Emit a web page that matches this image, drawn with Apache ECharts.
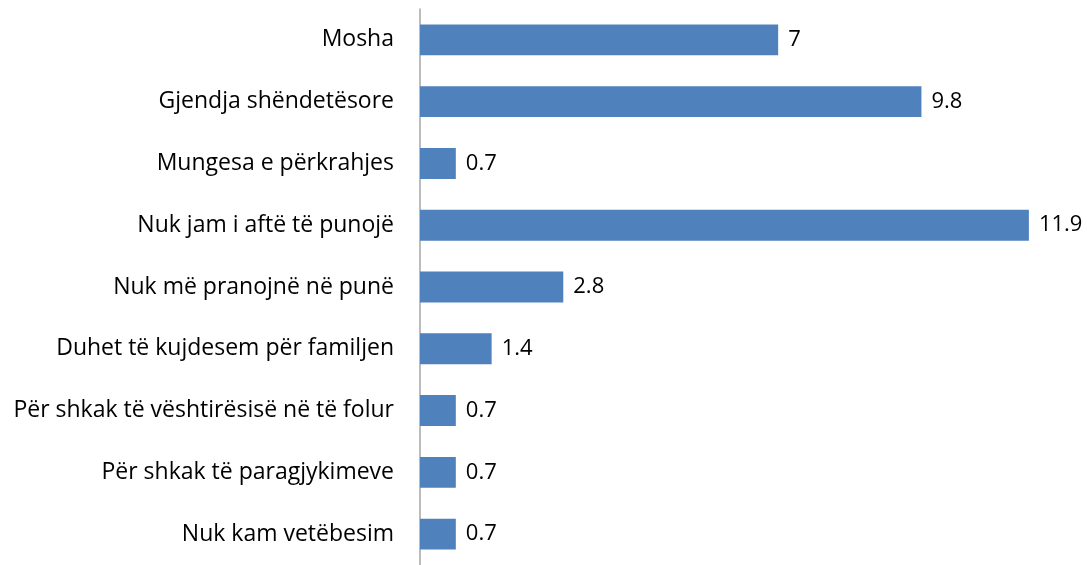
<!DOCTYPE html>
<html>
<head>
<meta charset="utf-8">
<script src="https://cdn.jsdelivr.net/npm/echarts@6/dist/echarts.min.js"></script>
<style>
    html, body { margin: 0; padding: 0; background: #fff; }
    #chart { width: 1087px; height: 565px; }
</style>
</head>
<body>
<div id="chart"></div>
<script>
    const categories = [
        'Mosha',
        'Gjendja shëndetësore',
        'Mungesa e përkrahjes',
        'Nuk jam i aftë të punojë',
        'Nuk më pranojnë në punë',
        'Duhet të kujdesem për familjen',
        'Për shkak të vështirësisë në të folur',
        'Për shkak të paragjykimeve',
        'Nuk kam vetëbesim'
    ]
    const values = [7, 9.8, 0.7, 11.9, 2.8, 1.4, 0.7, 0.7, 0.7]

    const chart = echarts.init(document.getElementById('chart'))
    chart.setOption({
        animation: false,
        textStyle: { fontFamily: 'Open Sans' },
        grid: {
            left: 420,
            right: 53,
            top: 9,
            bottom: 0
        },
        xAxis: {
            type: 'value',
            min: 0,
            max: 12,
            show: false
        },
        yAxis: {
            type: 'category',
            inverse: true,
            data: categories,
            axisLine: { show: true, lineStyle: { color: '#a6a6a6', width: 1.5 } },
            axisTick: { show: false },
            axisLabel: { color: '#000', fontSize: 23, margin: 26, fontFamily: 'Open Sans' }
        },
        series: [{
            type: 'bar',
            data: values,
            barWidth: '50%',
            itemStyle: { color: '#4f81bd' },
            label: {
                show: true,
                position: 'right',
                distance: 10,
                color: '#000',
                fontSize: 22,
                fontFamily: 'Open Sans'
            }
        }]
    })
</script>
</body>
</html>
